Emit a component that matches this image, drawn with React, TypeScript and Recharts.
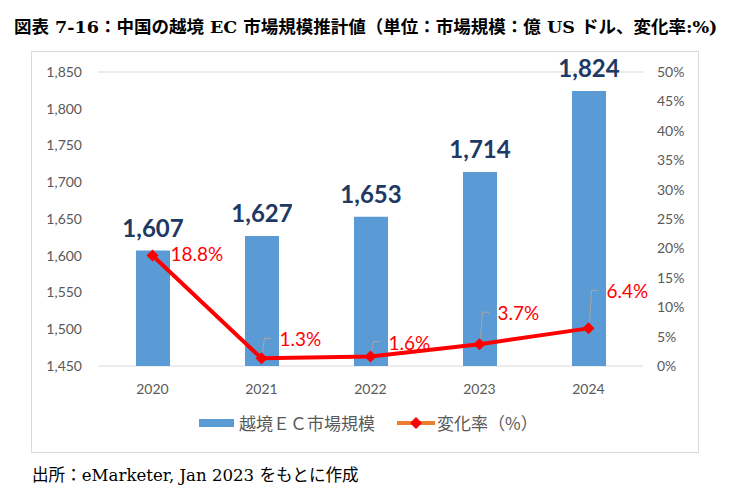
import React from "react";
import {
  ComposedChart,
  Bar,
  Line,
  XAxis,
  YAxis,
  CartesianGrid,
  LabelList,
} from "recharts";

const years = ["2020", "2021", "2022", "2023", "2024"];
const marketSize = [1607, 1627, 1653, 1714, 1824];
const changeRate = [18.8, 1.3, 1.6, 3.7, 6.4];
const leftTicks = [1450, 1500, 1550, 1600, 1650, 1700, 1750, 1800, 1850];
const rightTicks = [0, 5, 10, 15, 20, 25, 30, 35, 40, 45, 50];

const rateLabelDy = [0, -18, -13, -30, -36];

const data = years.map((y, i) => ({
  year: y,
  size: marketSize[i],
  rate: changeRate[i],
}));

const FONT = "Lato, 'Noto Sans', sans-serif";
const CJK = "'Noto Sans CJK JP', sans-serif";
const SERIF = "'DejaVu Serif', 'Noto Sans CJK JP', serif";

const Diamond = (props: any) => {
  const { cx, cy } = props;
  if (cx == null || cy == null) return null;
  const s = 6;
  return (
    <polygon
      points={`${cx},${cy - s} ${cx + s},${cy} ${cx},${cy + s} ${cx - s},${cy}`}
      fill="#FF0000"
    />
  );
};

const RateLabel = (props: any) => {
  const { x, y, value, index } = props;
  const dy = rateLabelDy[index] ?? 0;
  const lx = x + 18;
  const ly = y + dy;
  return (
    <g>
      {dy < -5 && (
        <path
          d={`M${x + 1},${y - 6} L${x + 3},${ly - 2} L${x + 10},${ly - 2}`}
          stroke="#A6A6A6"
          strokeWidth={1}
          fill="none"
        />
      )}
      <text
        x={lx}
        y={ly + 6}
        fill="#FF0000"
        fontSize={19}
        fontFamily={FONT}
        textAnchor="start"
      >
        {`${value}%`}
      </text>
    </g>
  );
};

export default function App() {
  return (
    <div style={{ position: "absolute", left: 0, top: 0, width: 731, height: 502, background: "#fff" }}>
      <div
        style={{
          position: "absolute",
          left: 14,
          top: 16,
          fontFamily: SERIF,
          fontWeight: "bold",
          fontSize: 17.5,
          whiteSpace: "nowrap",
          color: "#000",
          lineHeight: "22px",
        }}
      >
        図表 7-16：中国の越境 EC 市場規模推計値（単位：市場規模：億 US ドル、変化率:%)
      </div>
      <div
        style={{
          position: "absolute",
          left: 31,
          top: 51,
          width: 666,
          height: 400,
          border: "1px solid #D9D9D9",
        }}
      />
      <div style={{ position: "absolute", left: 0, top: 0 }}>
        <ComposedChart
          width={731}
          height={502}
          data={data}
          margin={{ top: 72, right: 28, bottom: 106, left: 38 }}
        >
          <CartesianGrid vertical={false} stroke="#D9D9D9" strokeWidth={1} />
          <XAxis
            dataKey="year"
            axisLine={false}
            tickLine={false}
            tickSize={0}
            tickMargin={18}
            height={30}
            tick={{ fill: "#595959", fontSize: 14, fontFamily: FONT }}
          />
          <YAxis
            yAxisId="left"
            orientation="left"
            domain={[1450, 1850]}
            ticks={leftTicks}
            allowDataOverflow
            axisLine={false}
            tickLine={false}
            tickSize={0}
            tickMargin={16}
            width={60}
            tickFormatter={(v: number) => v.toLocaleString("en-US")}
            tick={{ fill: "#595959", fontSize: 14, fontFamily: FONT }}
          />
          <YAxis
            yAxisId="right"
            orientation="right"
            domain={[0, 50]}
            ticks={rightTicks}
            axisLine={false}
            tickLine={false}
            tickSize={0}
            tickMargin={14}
            width={60}
            tickFormatter={(v: number) => `${v}%`}
            tick={{ fill: "#595959", fontSize: 14, fontFamily: FONT, textAnchor: "start" }}
          />
          <Bar
            yAxisId="left"
            dataKey="size"
            fill="#5B9BD5"
            barSize={34}
            isAnimationActive={false}
          >
            <LabelList
              dataKey="size"
              position="top"
              offset={14}
              formatter={(v: any) => Number(v).toLocaleString("en-US")}
              style={{ fill: "#203864", fontSize: 24, fontWeight: "bold", fontFamily: FONT }}
            />
          </Bar>
          <Line
            yAxisId="right"
            dataKey="rate"
            stroke="#FF0000"
            strokeWidth={4}
            dot={<Diamond />}
            activeDot={false}
            isAnimationActive={false}
          >
            <LabelList dataKey="rate" content={<RateLabel />} />
          </Line>
        </ComposedChart>
      </div>
      {/* legend */}
      <div style={{ position: "absolute", left: 199, top: 419, width: 35, height: 8, background: "#5B9BD5" }} />
      <div
        style={{
          position: "absolute",
          left: 239,
          top: 412,
          fontFamily: CJK,
          fontSize: 17,
          color: "#595959",
          whiteSpace: "nowrap",
          lineHeight: "22px",
        }}
      >
        越境ＥＣ市場規模
      </div>
      <svg style={{ position: "absolute", left: 395, top: 413 }} width={42} height={20}>
        <line x1={2} y1={10} x2={40} y2={10} stroke="#ED7D31" strokeWidth={4} />
        <polygon points="21,4 27,10 21,16 15,10" fill="#FF0000" />
      </svg>
      <div
        style={{
          position: "absolute",
          left: 437,
          top: 412,
          fontFamily: CJK,
          fontSize: 17,
          color: "#595959",
          whiteSpace: "nowrap",
          lineHeight: "22px",
        }}
      >
        変化率（%）
      </div>
      <div
        style={{
          position: "absolute",
          left: 32,
          top: 465,
          fontFamily: SERIF,
          fontSize: 16.6,
          color: "#000",
          whiteSpace: "nowrap",
          lineHeight: "22px",
        }}
      >
        出所：eMarketer, Jan 2023 をもとに作成
      </div>
    </div>
  );
}
